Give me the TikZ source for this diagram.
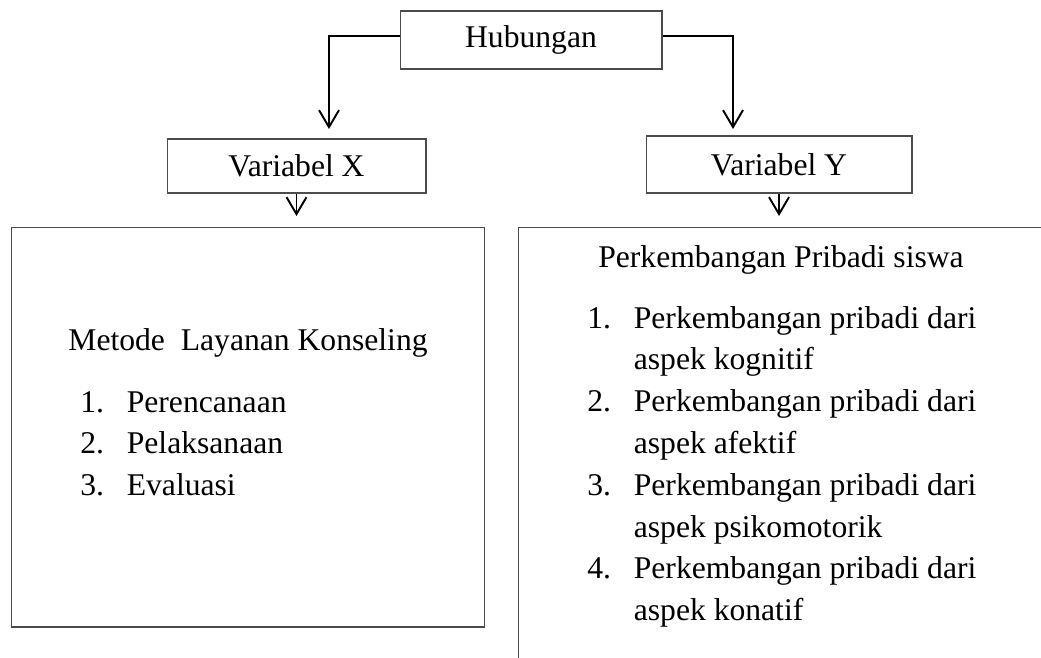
\documentclass[tikz,border=0pt]{standalone}
\usepackage{fontspec}
\setmainfont{Liberation Serif}
\usetikzlibrary{arrows.meta,positioning}

\begin{document}
\begin{tikzpicture}[x=0.02cm,y=-0.02cm,
    box/.style={draw=black!70, line width=0.6pt, rectangle, inner sep=0pt, font=\fontsize{18}{23.8}\selectfont},
    txt/.style={inner sep=0pt, font=\fontsize{18}{23.8}\selectfont},
    arr/.style={-{Straight Barb[length=3.4mm,width=4mm]}, line width=1.1pt}]
    \clip (0,0) rectangle (1041,657);

    % Top box
    \node[box, minimum width=5.24cm, minimum height=1.16cm] (hub) at (531,40) {Hubungan};

    % Variable boxes
    \node[box, minimum width=5.18cm, minimum height=1.08cm] (varx) at (296.5,166) {Variabel X};
    \node[box, minimum width=5.32cm, minimum height=1.14cm] (vary) at (779,164.5) {Variabel Y};

    % Big boxes (right one runs off the page)
    \node[box, minimum width=9.48cm, minimum height=8cm] (leftbox) at (248,427) {};
    \node[box, minimum width=11.24cm, minimum height=9.46cm] (rightbox) at (799,463.5) {};

    % Connectors
    \coordinate (xin) at (329,129);
    \coordinate (yin) at (733,129);
    \draw[arr] ([yshift=0.08cm]hub.west) -| (xin);
    \draw[arr] ([yshift=0.08cm]hub.east) -| (yin);
    \coordinate (xout) at (296.5,216);
    \coordinate (yout) at (779,216);
    \draw[arr] (varx.south) -- (xout);
    \draw[arr] (vary.south) -- (yout);

    % Left box text
    \node[txt, anchor=base] (metode) at (248,350) {Metode\ \ Layanan Konseling};
    \node[txt, anchor=base west] (listx) at (80,412) {%
        \begin{tabular}[t]{@{}l@{}}
        \makebox[0.93cm][l]{1.}Perencanaan\\
        \makebox[0.93cm][l]{2.}Pelaksanaan\\
        \makebox[0.93cm][l]{3.}Evaluasi
        \end{tabular}};

    % Right box text
    \node[txt, anchor=base] (perk) at (781,267) {Perkembangan Pribadi siswa};
    \node[txt, anchor=base west] (listy) at (587,328) {%
        \begin{tabular}[t]{@{}l@{}}
        \makebox[0.93cm][l]{1.}Perkembangan pribadi dari\\
        \hspace*{0.93cm}aspek kognitif\\
        \makebox[0.93cm][l]{2.}Perkembangan pribadi dari\\
        \hspace*{0.93cm}aspek afektif\\
        \makebox[0.93cm][l]{3.}Perkembangan pribadi dari\\
        \hspace*{0.93cm}aspek psikomotorik\\
        \makebox[0.93cm][l]{4.}Perkembangan pribadi dari\\
        \hspace*{0.93cm}aspek konatif
        \end{tabular}};
\end{tikzpicture}
\end{document}
